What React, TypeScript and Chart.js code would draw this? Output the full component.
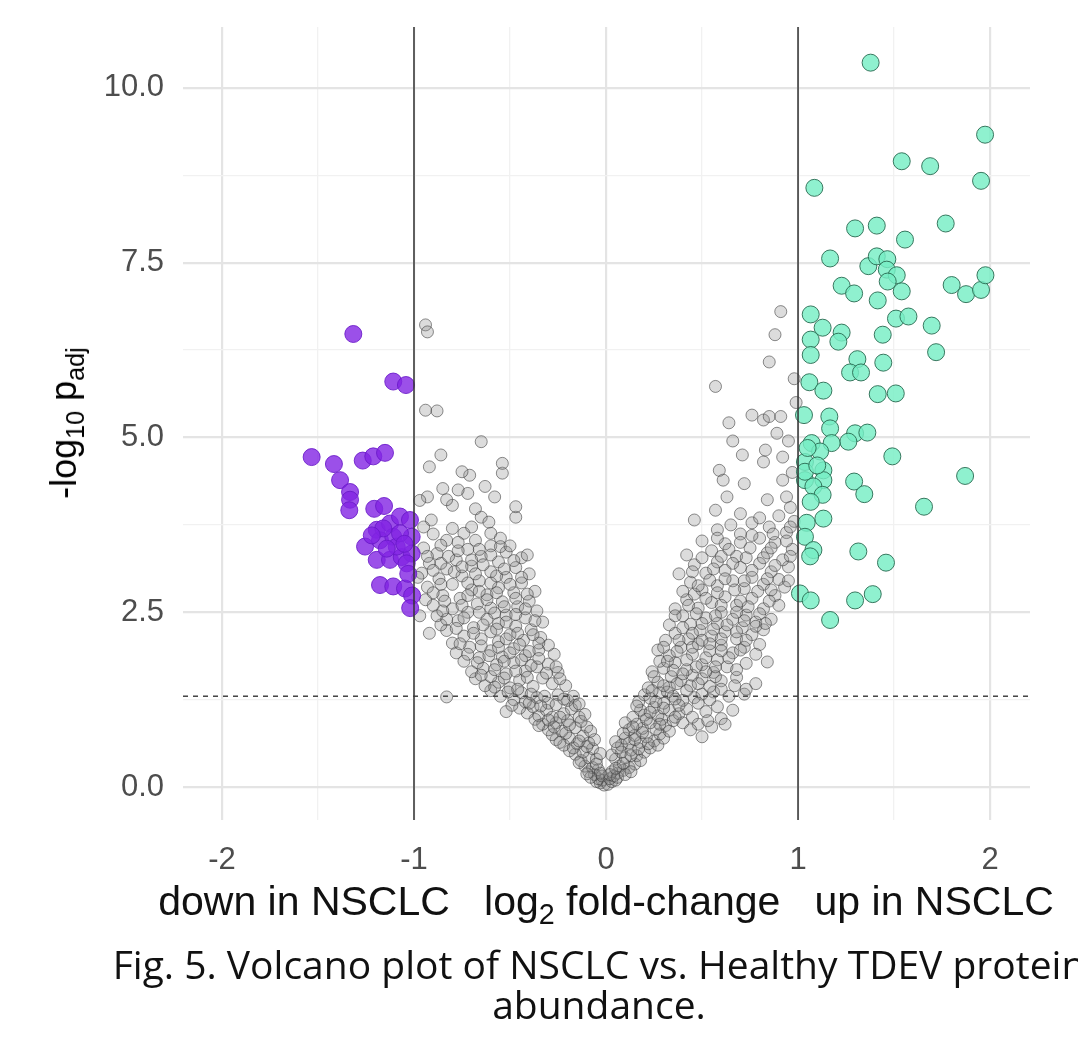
import React, { useEffect, useRef } from "react";
import { Chart, registerables } from "chart.js";

Chart.register(...registerables);

// ---- axis configuration ----
const xRange = [-2.203, 2.208];
const yRange = [-0.47, 10.87];
const xMajor = [-2, -1, 0, 1, 2];
const xTickLabels = ["-2", "-1", "0", "1", "2"];
const xMinor = [-1.5, -0.5, 0.5, 1.5];
const yMajor = [0, 2.5, 5, 7.5, 10];
const yTickLabels = ["0.0", "2.5", "5.0", "7.5", "10.0"];
const yMinor = [1.25, 3.75, 6.25, 8.75];

// thresholds
const foldThresholds = [-1, 1];
const pThreshold = 1.3;

// ---- data: [log2 fold-change, -log10 padj] ----
const purplePoints: [number, number][] = [
  [-1.316, 6.48], [-1.108, 5.8], [-1.042, 5.75], [-1.533, 4.72], [-1.417, 4.62],
  [-1.267, 4.67], [-1.212, 4.73], [-1.151, 4.78], [-1.385, 4.39], [-1.333, 4.22],
  [-1.333, 4.11], [-1.337, 3.96], [-1.207, 3.98], [-1.156, 4.02], [-1.194, 3.68],
  [-1.125, 3.77], [-1.073, 3.87], [-1.021, 3.82], [-1.255, 3.44], [-1.177, 3.53],
  [-1.108, 3.58], [-1.012, 3.58], [-1.194, 3.25], [-1.125, 3.25], [-1.064, 3.29],
  [-1.012, 3.34], [-1.09, 3.44], [-1.177, 2.89], [-1.108, 2.87], [-1.047, 2.84],
  [-1.01, 2.74], [-1.02, 2.56], [-1.142, 3.41], [-1.073, 3.63], [-1.038, 3.2],
  [-1.16, 3.7], [-1.05, 3.48], [-1.22, 3.6], [-1.03, 3.05],
];

const greenPoints: [number, number][] = [
  [1.378, 10.36], [1.974, 9.33], [1.54, 8.95], [1.688, 8.88], [1.953, 8.67],
  [1.085, 8.57], [1.297, 7.99], [1.41, 8.03], [1.769, 8.06], [1.557, 7.83],
  [1.167, 7.56], [1.366, 7.45], [1.41, 7.59], [1.465, 7.55], [1.462, 7.4],
  [1.514, 7.32], [1.227, 7.17], [1.292, 7.06], [1.467, 7.23], [1.54, 7.09],
  [1.8, 7.18], [1.875, 7.05], [1.953, 7.11], [1.976, 7.32], [1.415, 6.96],
  [1.066, 6.76], [1.128, 6.57], [1.227, 6.5], [1.21, 6.37], [1.066, 6.4],
  [1.066, 6.18], [1.51, 6.7], [1.575, 6.73], [1.696, 6.6], [1.441, 6.47],
  [1.719, 6.22], [1.309, 6.12], [1.271, 5.93], [1.328, 5.93], [1.444, 6.07],
  [1.059, 5.79], [1.132, 5.67], [1.415, 5.62], [1.509, 5.63], [1.031, 5.32],
  [1.163, 5.3], [1.167, 5.13], [1.297, 5.06], [1.361, 5.07], [1.262, 4.94],
  [1.175, 4.92], [1.071, 4.92], [1.115, 4.8], [1.036, 4.65], [1.132, 4.53],
  [1.036, 4.39], [1.132, 4.39], [1.08, 4.3], [1.128, 4.18], [1.066, 4.08],
  [1.036, 4.51], [1.491, 4.73], [1.87, 4.45], [1.292, 4.37], [1.345, 4.19],
  [1.656, 4.01], [1.132, 3.84], [1.045, 3.78], [1.036, 3.58], [1.08, 3.39],
  [1.063, 3.3], [1.314, 3.37], [1.458, 3.21], [1.01, 2.77], [1.066, 2.67],
  [1.297, 2.67], [1.389, 2.76], [1.167, 2.39], [1.1, 4.6], [1.05, 4.85],
];

const grayPoints: [number, number][] = [
  // left arm
  [-0.01, 0.03], [-0.03, 0.06], [-0.02, 0.1], [-0.05, 0.08], [-0.04, 0.12],
  [-0.06, 0.18], [-0.09, 0.22], [-0.04, 0.25], [-0.11, 0.3], [-0.07, 0.28], [-0.02, 0.16],
  [-0.13, 0.38], [-0.09, 0.42], [-0.16, 0.47], [-0.05, 0.4], [-0.19, 0.52], [-0.12, 0.5], [-0.07, 0.55],
  [-0.22, 0.6], [-0.15, 0.62], [-0.26, 0.68], [-0.09, 0.63], [-0.19, 0.7], [-0.12, 0.73], [-0.28, 0.75],
  [-0.3, 0.82], [-0.23, 0.8], [-0.16, 0.85], [-0.33, 0.9], [-0.1, 0.86], [-0.26, 0.92], [-0.2, 0.95], [-0.37, 0.97],
  [-0.35, 1.02], [-0.28, 1.0], [-0.41, 1.06], [-0.14, 1.0], [-0.22, 1.05], [-0.31, 1.1], [-0.18, 1.12], [-0.45, 1.13], [-0.52, 1.08], [-0.38, 1.15],
  [-0.42, 1.22], [-0.48, 1.25], [-0.3, 1.2], [-0.2, 1.24], [-0.55, 1.3], [-0.36, 1.28], [-0.25, 1.32], [-0.44, 1.35], [-0.17, 1.3], [-0.6, 1.38], [-0.83, 1.29],
  [-0.5, 1.42], [-0.63, 1.45], [-0.38, 1.44], [-0.28, 1.48], [-0.56, 1.5], [-0.21, 1.45], [-0.45, 1.53], [-0.68, 1.55], [-0.33, 1.56], [-0.6, 1.58],
  [-0.52, 1.62], [-0.7, 1.65], [-0.42, 1.66], [-0.25, 1.64], [-0.64, 1.7], [-0.36, 1.72], [-0.57, 1.75], [-0.48, 1.78], [-0.3, 1.76], [-0.74, 1.8],
  [-0.66, 1.85], [-0.54, 1.86], [-0.42, 1.88], [-0.27, 1.9], [-0.78, 1.92], [-0.6, 1.95], [-0.35, 1.96], [-0.48, 1.98], [-0.71, 2.0], [-0.3, 2.03],
  [-0.8, 2.06], [-0.56, 2.08], [-0.43, 2.1], [-0.65, 2.12], [-0.34, 2.14], [-0.74, 2.16], [-0.5, 2.18], [-0.6, 2.22], [-0.83, 2.24], [-0.39, 2.25],
  [-0.69, 2.28], [-0.47, 2.3], [-0.86, 2.32], [-0.56, 2.34], [-0.33, 2.36], [-0.77, 2.38], [-0.62, 2.4], [-0.42, 2.42], [-0.52, 2.46], [-0.88, 2.45],
  [-0.72, 2.5], [-0.36, 2.52], [-0.8, 2.55], [-0.6, 2.56], [-0.46, 2.58], [-0.9, 2.6], [-0.67, 2.62], [-0.54, 2.65], [-0.4, 2.66], [-0.94, 2.68],
  [-0.76, 2.7], [-0.85, 2.74], [-0.62, 2.75], [-0.48, 2.78], [-0.37, 2.8], [-0.7, 2.82], [-0.56, 2.85], [-0.93, 2.86], [-0.8, 2.9], [-0.44, 2.92],
  [-0.66, 2.95], [-0.87, 2.98], [-0.52, 3.0], [-0.75, 3.02], [-0.4, 3.05], [-0.96, 3.06], [-0.6, 3.08], [-0.83, 3.12], [-0.47, 3.14], [-0.7, 3.16],
  [-0.92, 3.2], [-0.56, 3.22], [-0.78, 3.25], [-0.44, 3.28], [-0.65, 3.3], [-0.88, 3.34], [-0.52, 3.36], [-0.72, 3.4], [-0.6, 3.45], [-0.95, 3.42],
  [-0.83, 3.53], [-0.68, 3.53], [-0.55, 3.44], [-0.74, 3.63], [-0.6, 3.63], [-0.41, 3.32], [-0.91, 3.82], [-0.65, 3.86],
  [-0.61, 3.79], [-0.47, 3.86], [-0.47, 4.01], [-0.68, 3.98], [-0.8, 4.03], [-0.83, 4.11], [-0.93, 4.15], [-0.58, 4.15],
  [-0.72, 4.2], [-0.77, 4.25], [-0.85, 4.27], [-0.63, 4.3], [-0.54, 4.49], [-0.71, 4.46], [-0.75, 4.51], [-0.92, 4.58],
  [-0.86, 4.75], [-0.54, 4.63], [-0.65, 4.94], [-0.94, 5.39], [-0.88, 5.38], [-0.94, 6.61], [-0.93, 6.51],
  [-0.97, 4.1], [-0.95, 3.72], [-0.98, 3.0], [-0.97, 2.45], [-0.92, 2.2],
  // left arm, denser core
  [-0.03, 0.2], [-0.08, 0.14], [-0.05, 0.33], [-0.1, 0.19], [-0.14, 0.35],
  [-0.03, 0.48], [-0.1, 0.58], [-0.17, 0.56], [-0.24, 0.64], [-0.06, 0.68], [-0.14, 0.66], [-0.21, 0.77],
  [-0.13, 0.94], [-0.27, 0.86], [-0.35, 0.88], [-0.08, 0.8], [-0.19, 0.89], [-0.3, 0.96], [-0.24, 1.0], [-0.11, 1.04],
  [-0.16, 1.17], [-0.26, 1.18], [-0.34, 1.16], [-0.4, 1.2], [-0.49, 1.17], [-0.22, 1.26], [-0.32, 1.3], [-0.39, 1.33], [-0.51, 1.36], [-0.58, 1.43], [-0.46, 1.4], [-0.14, 1.19],
  [-0.24, 1.55], [-0.41, 1.57], [-0.53, 1.56], [-0.65, 1.6], [-0.31, 1.63], [-0.47, 1.66], [-0.58, 1.68], [-0.39, 1.74], [-0.26, 1.72], [-0.67, 1.78], [-0.53, 1.8], [-0.44, 1.82], [-0.35, 1.84], [-0.61, 1.88], [-0.72, 1.9], [-0.5, 1.92],
  [-0.4, 1.94], [-0.56, 2.0], [-0.65, 2.02], [-0.76, 2.05], [-0.45, 2.04], [-0.35, 2.06], [-0.52, 2.12], [-0.69, 2.2], [-0.57, 2.26], [-0.78, 2.27], [-0.46, 2.2], [-0.38, 2.18], [-0.64, 2.32], [-0.52, 2.36], [-0.74, 2.42], [-0.83, 2.4], [-0.37, 2.38],
  [-0.47, 2.47], [-0.58, 2.49], [-0.66, 2.5], [-0.85, 2.52], [-0.42, 2.55], [-0.53, 2.58], [-0.75, 2.6], [-0.62, 2.68], [-0.84, 2.66], [-0.47, 2.7], [-0.72, 2.74], [-0.57, 2.78], [-0.9, 2.78], [-0.41, 2.76], [-0.66, 2.8],
  [-0.5, 2.9], [-0.6, 2.92], [-0.72, 2.92], [-0.86, 2.9], [-0.44, 3.0], [-0.57, 3.02], [-0.68, 3.05], [-0.79, 3.08], [-0.9, 3.1], [-0.53, 3.12], [-0.64, 3.18], [-0.75, 3.15], [-0.86, 3.2],
  [-0.48, 3.24], [-0.7, 3.25], [-0.82, 3.3], [-0.6, 3.32], [-0.93, 3.3], [-0.77, 3.38], [-0.66, 3.4], [-0.5, 3.45], [-0.86, 3.46], [-0.77, 3.5], [-0.9, 3.62], [-0.8, 3.7], [-0.55, 3.56], [-0.7, 3.72],
  // right arm
  [0.01, 0.04], [0.03, 0.08], [0.02, 0.12], [0.05, 0.1], [0.04, 0.16],
  [0.06, 0.2], [0.09, 0.24], [0.03, 0.22], [0.12, 0.28], [0.07, 0.3], [0.15, 0.33],
  [0.05, 0.4], [0.1, 0.42], [0.16, 0.45], [0.08, 0.5], [0.2, 0.5], [0.13, 0.53], [0.23, 0.56],
  [0.08, 0.6], [0.12, 0.63], [0.18, 0.64], [0.25, 0.66], [0.1, 0.7], [0.21, 0.72], [0.15, 0.74], [0.28, 0.76], [0.5, 0.72],
  [0.12, 0.82], [0.19, 0.84], [0.26, 0.83], [0.31, 0.88], [0.16, 0.9], [0.23, 0.92], [0.35, 0.95], [0.29, 0.97], [0.48, 0.9], [0.55, 0.86], [0.6, 0.98],
  [0.14, 1.0], [0.2, 1.03], [0.27, 1.02], [0.38, 1.05], [0.33, 1.1], [0.18, 1.1], [0.42, 1.12], [0.25, 1.14], [0.52, 1.08], [0.66, 1.1], [0.58, 1.15],
  [0.17, 1.22], [0.3, 1.2], [0.4, 1.24], [0.23, 1.27], [0.46, 1.28], [0.35, 1.3], [0.5, 1.33], [0.28, 1.35], [0.2, 1.32], [0.64, 1.3], [0.72, 1.33], [0.56, 1.36],
  [0.22, 1.42], [0.33, 1.43], [0.44, 1.45], [0.54, 1.44], [0.27, 1.5], [0.39, 1.52], [0.5, 1.55], [0.6, 1.52], [0.78, 1.48], [0.34, 1.58], [0.45, 1.6], [0.68, 1.57],
  [0.24, 1.65], [0.56, 1.64], [0.3, 1.7], [0.42, 1.68], [0.63, 1.72], [0.5, 1.75], [0.36, 1.78], [0.73, 1.77], [0.84, 1.79], [0.28, 1.8], [0.58, 1.82],
  [0.33, 1.88], [0.45, 1.9], [0.66, 1.92], [0.54, 1.95], [0.27, 1.96], [0.39, 2.0], [0.72, 2.0], [0.6, 2.03], [0.48, 2.05], [0.8, 2.04],
  [0.31, 2.1], [0.43, 2.12], [0.68, 2.12], [0.55, 2.16], [0.76, 2.18], [0.36, 2.2], [0.62, 2.22], [0.49, 2.24], [0.82, 2.25], [0.71, 2.28],
  [0.33, 2.32], [0.44, 2.33], [0.58, 2.34], [0.78, 2.36], [0.66, 2.4], [0.52, 2.42], [0.86, 2.4], [0.4, 2.45], [0.73, 2.46], [0.6, 2.5],
  [0.36, 2.55], [0.48, 2.56], [0.82, 2.55], [0.68, 2.6], [0.9, 2.6], [0.55, 2.64], [0.42, 2.68], [0.76, 2.7], [0.62, 2.72], [0.88, 2.74],
  [0.4, 2.8], [0.5, 2.82], [0.72, 2.84], [0.93, 2.86], [0.58, 2.88], [0.82, 2.9], [0.44, 2.93], [0.66, 2.95], [0.9, 2.97], [0.76, 3.0],
  [0.38, 3.05], [0.52, 3.06], [0.62, 3.1], [0.86, 3.08], [0.7, 3.14], [0.95, 3.15], [0.46, 3.18], [0.8, 3.2], [0.58, 3.22], [0.92, 3.25],
  [0.68, 3.3], [0.42, 3.32], [0.84, 3.35], [0.55, 3.38], [0.75, 3.42], [0.97, 3.4], [0.62, 3.48], [0.88, 3.5], [0.5, 3.52], [0.8, 3.56],
  [0.7, 3.62], [0.94, 3.64], [0.58, 3.68], [0.85, 3.72], [0.76, 3.78], [0.98, 3.8], [0.46, 3.82], [0.57, 3.96], [0.7, 3.91], [0.9, 3.88],
  [0.84, 4.11], [0.94, 4.15], [0.63, 4.15], [0.72, 4.34], [0.61, 4.39], [0.92, 4.39], [0.59, 4.53], [0.82, 4.65], [0.92, 4.72],
  [0.71, 4.75], [0.83, 4.82], [0.66, 4.95], [0.89, 5.06], [0.64, 5.21], [0.82, 5.25], [0.76, 5.32], [0.85, 5.3], [0.91, 5.3],
  [0.57, 5.73], [0.98, 5.84], [0.85, 6.08], [0.88, 6.47], [0.91, 6.8], [0.96, 4.0], [0.97, 4.5], [0.95, 4.95], [0.99, 5.5],
  // right arm, denser core
  [0.02, 0.18], [0.06, 0.14], [0.1, 0.18], [0.05, 0.27], [0.13, 0.22], [0.09, 0.34], [0.18, 0.38],
  [0.03, 0.46], [0.13, 0.45], [0.06, 0.56], [0.17, 0.55], [0.27, 0.6], [0.05, 0.65], [0.15, 0.68], [0.22, 0.62], [0.3, 0.7], [0.19, 0.78], [0.09, 0.77], [0.33, 0.8],
  [0.1, 0.92], [0.21, 0.97], [0.28, 0.9], [0.4, 0.92], [0.14, 0.86], [0.36, 1.0], [0.45, 1.0], [0.23, 1.07], [0.3, 1.13], [0.16, 1.16], [0.38, 1.17], [0.48, 1.2], [0.44, 0.82], [0.53, 0.95], [0.62, 0.9],
  [0.26, 1.22], [0.36, 1.26], [0.54, 1.25], [0.32, 1.36], [0.42, 1.38], [0.24, 1.38], [0.6, 1.4], [0.48, 1.48], [0.37, 1.48], [0.3, 1.45], [0.57, 1.58], [0.25, 1.58], [0.4, 1.62], [0.67, 1.45], [0.73, 1.4], [0.52, 1.65],
  [0.35, 1.67], [0.47, 1.72], [0.57, 1.72], [0.68, 1.68], [0.32, 1.8], [0.42, 1.82], [0.52, 1.85], [0.64, 1.85], [0.78, 1.9], [0.37, 1.94], [0.6, 1.95], [0.7, 1.96], [0.45, 2.0], [0.3, 2.0], [0.54, 2.05],
  [0.38, 2.1], [0.5, 2.1], [0.6, 2.12], [0.73, 2.1], [0.45, 2.2], [0.56, 2.26], [0.68, 2.22], [0.78, 2.3], [0.4, 2.28], [0.5, 2.34], [0.63, 2.32], [0.72, 2.38], [0.83, 2.34], [0.47, 2.48], [0.57, 2.45], [0.68, 2.5], [0.8, 2.48], [0.36, 2.45],
  [0.43, 2.6], [0.6, 2.6], [0.74, 2.58], [0.85, 2.66], [0.52, 2.7], [0.7, 2.66], [0.46, 2.76], [0.58, 2.78], [0.67, 2.82], [0.79, 2.8], [0.86, 2.82], [0.54, 2.96], [0.62, 2.98], [0.72, 2.95], [0.84, 2.98], [0.48, 2.88], [0.95, 2.95],
  [0.45, 3.08], [0.56, 3.12], [0.66, 3.2], [0.76, 3.1], [0.88, 3.17], [0.5, 3.28], [0.6, 3.3], [0.73, 3.28], [0.82, 3.28], [0.96, 3.3], [0.64, 3.4], [0.86, 3.42], [0.7, 3.5], [0.94, 3.52], [0.58, 3.56], [0.76, 3.6], [0.87, 3.62], [0.65, 3.75], [0.96, 3.72], [0.8, 3.85],
];

const toXY = (arr: [number, number][]) => arr.map(([x, y]) => ({ x, y }));
const isIn = (list: number[], v: number) => list.some((m) => Math.abs(m - v) < 1e-9);

export default function App() {
  const canvasRef = useRef<HTMLCanvasElement | null>(null);

  useEffect(() => {
    if (!canvasRef.current) return;
    const tickFont = { family: "'Liberation Sans', Arial, sans-serif", size: 31 };
    const chart = new Chart(canvasRef.current, {
      type: "scatter",
      data: {
        datasets: [
          {
            label: "down",
            data: toXY(purplePoints),
            backgroundColor: "rgba(130, 36, 228, 0.8)",
            borderColor: "rgba(105, 25, 200, 0.85)",
            borderWidth: 1,
            pointRadius: 8.5,
            order: 2,
          },
          {
            label: "up",
            data: toXY(greenPoints),
            backgroundColor: "rgba(118, 238, 196, 0.82)",
            borderColor: "rgba(40, 105, 80, 0.9)",
            borderWidth: 1,
            pointRadius: 8.5,
            order: 2,
          },
          {
            label: "ns",
            data: toXY(grayPoints),
            backgroundColor: "rgba(140, 140, 140, 0.3)",
            borderColor: "rgba(60, 60, 60, 0.58)",
            borderWidth: 1,
            pointRadius: 6,
            order: 3,
          },
          ...foldThresholds.map((fx) => ({
            label: "fc" + fx,
            type: "line" as const,
            data: [
              { x: fx, y: yRange[0] },
              { x: fx, y: yRange[1] },
            ],
            borderColor: "#333333",
            borderWidth: 1.5,
            pointRadius: 0,
            showLine: true,
            fill: false,
            order: 1,
          })),
          {
            label: "p",
            type: "line" as const,
            data: [
              { x: xRange[0], y: pThreshold },
              { x: xRange[1], y: pThreshold },
            ],
            borderColor: "#444444",
            borderWidth: 1.5,
            borderDash: [5, 5],
            pointRadius: 0,
            showLine: true,
            fill: false,
            order: 1,
          },
        ],
      },
      options: {
        responsive: false,
        animation: false,
        layout: { padding: { top: 27, right: 48, left: 0, bottom: 0 } },
        plugins: { legend: { display: false }, tooltip: { enabled: false } },
        scales: {
          x: {
            type: "linear",
            min: xRange[0],
            max: xRange[1],
            afterBuildTicks: (scale: any) => {
              scale.ticks = [...xMajor, ...xMinor].sort((a, b) => a - b).map((v) => ({ value: v }));
            },
            afterFit: (scale: any) => {
              scale.height = 60;
              scale.paddingLeft = 0;
              scale.paddingRight = 0;
            },
            border: { display: false },
            grid: {
              drawTicks: false,
              color: (ctx: any) => (ctx.tick && isIn(xMajor, ctx.tick.value) ? "#e4e4e4" : "#f1f1f1"),
              lineWidth: (ctx: any) => (ctx.tick && isIn(xMajor, ctx.tick.value) ? 2.2 : 1.3),
            },
            ticks: {
              autoSkip: false,
              maxRotation: 0,
              padding: 22,
              color: "#4d4d4d",
              font: tickFont,
              callback: (v: any) => {
                const i = xMajor.findIndex((m) => Math.abs(m - Number(v)) < 1e-9);
                return i >= 0 ? xTickLabels[i] : "";
              },
            },
          },
          y: {
            type: "linear",
            min: yRange[0],
            max: yRange[1],
            afterBuildTicks: (scale: any) => {
              scale.ticks = [...yMajor, ...yMinor].sort((a, b) => a - b).map((v) => ({ value: v }));
            },
            afterFit: (scale: any) => {
              scale.width = 183;
              scale.paddingTop = 0;
              scale.paddingBottom = 0;
            },
            border: { display: false },
            grid: {
              drawTicks: false,
              color: (ctx: any) => (ctx.tick && isIn(yMajor, ctx.tick.value) ? "#e4e4e4" : "#f1f1f1"),
              lineWidth: (ctx: any) => (ctx.tick && isIn(yMajor, ctx.tick.value) ? 2.2 : 1.3),
            },
            ticks: {
              autoSkip: false,
              padding: 19,
              color: "#4d4d4d",
              font: tickFont,
              callback: (v: any) => {
                const i = yMajor.findIndex((m) => Math.abs(m - Number(v)) < 1e-9);
                return i >= 0 ? yTickLabels[i] : "";
              },
            },
          },
        },
      },
    } as any);
    return () => chart.destroy();
  }, []);

  const sub = (t: string) => (
    <span style={{ fontSize: "0.7em", position: "relative", top: "0.32em" }}>{t}</span>
  );

  return (
    <div
      style={{
        position: "absolute",
        left: 0,
        top: 0,
        width: 1078,
        height: 1037,
        overflow: "hidden",
        background: "#ffffff",
      }}
    >
      <canvas
        ref={canvasRef}
        width={1078}
        height={880}
        style={{ position: "absolute", left: 0, top: 0, width: 1078, height: 880 }}
      />
      <div
        style={{
          position: "absolute",
          left: 64,
          top: 423,
          transform: "translate(-50%, -50%) rotate(-90deg)",
          whiteSpace: "nowrap",
          fontFamily: "'Liberation Sans', Arial, sans-serif",
          fontSize: 36,
          color: "#000",
          lineHeight: 1,
        }}
      >
        -log{sub("10")} p{sub("adj")}
      </div>
      <div
        style={{
          position: "absolute",
          left: 106,
          top: 881,
          width: 1000,
          display: "flex",
          justifyContent: "center",
          whiteSpace: "pre",
          fontFamily: "'Liberation Sans', Arial, sans-serif",
          fontSize: 41,
          color: "#111",
          lineHeight: 1,
        }}
      >
        <span>
          down in NSCLC   log{sub("2")} fold-change   up in NSCLC
        </span>
      </div>
      <div
        style={{
          position: "absolute",
          left: 99,
          top: 944,
          width: 1000,
          fontFamily: "'Open Sans', 'Noto Sans', sans-serif",
          fontSize: 39,
          color: "#111",
          lineHeight: "40px",
        }}
      >
        <div style={{ display: "flex", justifyContent: "center", whiteSpace: "nowrap" }}>
          <span>Fig. 5. Volcano plot of NSCLC vs. Healthy TDEV protein</span>
        </div>
        <div style={{ display: "flex", justifyContent: "center", whiteSpace: "nowrap" }}>
          <span>abundance.</span>
        </div>
      </div>
    </div>
  );
}
